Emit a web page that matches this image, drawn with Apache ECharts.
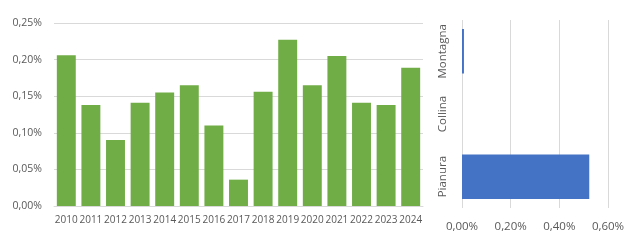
<!DOCTYPE html>
<html><head><meta charset="utf-8">
<script src="https://cdn.jsdelivr.net/npm/echarts@6/dist/echarts.min.js"></script>
<style>html,body{margin:0;padding:0;background:#fff}#c{width:630px;height:240px}</style>
</head><body><div id="c"></div>
<script>
const years = ['2010','2011','2012','2013','2014','2015','2016','2017','2018','2019','2020','2021','2022','2023','2024'];
const yearValues = [0.206, 0.138, 0.090, 0.141, 0.155, 0.165, 0.110, 0.036, 0.156, 0.227, 0.165, 0.205, 0.141, 0.138, 0.189];
const zones = ['Pianura', 'Collina', 'Montagna'];
const zoneValues = [0.523, 0, 0.008];
const leftTicks = { min: 0, max: 0.25, interval: 0.05 };
const rightTicks = { min: 0, max: 0.6, interval: 0.2 };

const fmt = v => v.toFixed(2).replace('.', ',') + '%';
const txt = '#595959';
const font = 'Open Sans';
const chart = echarts.init(document.getElementById('c'), null, { renderer: 'canvas' });
chart.setOption({
  animation: false,
  grid: [
    { left: 54, right: 207, top: 23, bottom: 34 },
    { left: 462, right: 22, top: 20, bottom: 32 }
  ],
  xAxis: [
    { gridIndex: 0, type: 'category', data: years,
      axisLine: { lineStyle: { color: '#D9D9D9' } }, axisTick: { show: false },
      axisLabel: { color: txt, fontFamily: font, fontSize: 10, margin: 9, interval: 0 } },
    { gridIndex: 1, type: 'value', min: rightTicks.min, max: rightTicks.max, interval: rightTicks.interval,
      axisLine: { show: false }, axisTick: { show: false },
      splitLine: { lineStyle: { color: '#D9D9D9' } },
      axisLabel: { color: txt, fontFamily: font, fontSize: 11.5, margin: 13, formatter: fmt } }
  ],
  yAxis: [
    { gridIndex: 0, type: 'value', min: leftTicks.min, max: leftTicks.max, interval: leftTicks.interval,
      axisLine: { show: false }, axisTick: { show: false },
      splitLine: { lineStyle: { color: '#D9D9D9' } },
      axisLabel: { color: txt, fontFamily: font, fontSize: 10.5, margin: 12, formatter: fmt } },
    { gridIndex: 1, type: 'category', data: zones,
      axisLine: { show: false }, axisTick: { show: false },
      axisLabel: { color: txt, fontFamily: font, fontSize: 11.5, rotate: 90, margin: 13, interval: 0 } }
  ],
  series: [
    { type: 'bar', xAxisIndex: 0, yAxisIndex: 0, data: yearValues,
      barCategoryGap: '23%', itemStyle: { color: '#70AD47' } },
    { type: 'bar', xAxisIndex: 1, yAxisIndex: 1, data: zoneValues,
      barCategoryGap: '29%', itemStyle: { color: '#4472C4' } }
  ]
});
</script></body></html>
